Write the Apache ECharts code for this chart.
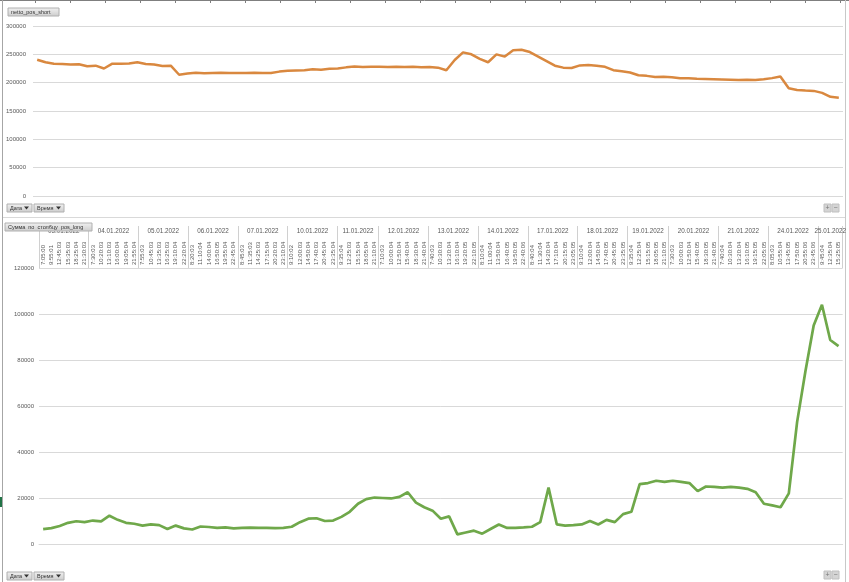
<!DOCTYPE html>
<html><head><meta charset="utf-8">
<script src="https://cdn.jsdelivr.net/npm/echarts@6/dist/echarts.min.js"></script>
<style>html,body{margin:0;padding:0;background:#fff}#c{width:849px;height:582px}</style>
</head><body><div id="c"></div>
<script>
const FONT = '"Liberation Sans", "DejaVu Sans", sans-serif';
const days = ['03.01.2022','04.01.2022','05.01.2022','06.01.2022','07.01.2022','10.01.2022','11.01.2022','12.01.2022','13.01.2022','14.01.2022','17.01.2022','18.01.2022','19.01.2022','20.01.2022','21.01.2022','24.01.2022','25.01.2022'];
const times = [
  ['7:05:00','9:55:01','12:45:03','15:35:03','18:25:04','21:30:03'],
  ['7:30:03','10:20:03','13:10:03','16:00:04','19:05:04','21:55:04'],
  ['7:55:03','10:45:03','13:35:03','16:25:03','19:10:04','22:20:04'],
  ['8:20:03','11:10:04','14:00:04','16:50:05','19:55:04','22:45:04'],
  ['8:45:03','11:35:03','14:25:03','17:15:04','20:20:03','23:10:04'],
  ['9:10:02','12:00:03','14:50:04','17:40:03','20:45:04','23:35:04'],
  ['9:35:04','12:25:03','15:15:04','18:05:04','21:10:04'],
  ['7:10:03','10:00:04','12:50:04','15:40:04','18:30:04','21:40:04'],
  ['7:40:03','10:30:03','13:20:04','16:10:04','19:20:05','22:10:05'],
  ['8:10:04','11:00:04','13:50:04','16:40:05','19:50:05','22:40:06'],
  ['8:40:04','11:30:04','14:20:04','17:10:04','20:15:05','23:05:05'],
  ['9:10:04','12:00:04','14:50:04','17:40:05','20:45:05','23:35:05'],
  ['9:35:04','12:25:04','15:15:05','18:05:05','21:10:05'],
  ['7:30:03','10:00:03','12:50:04','15:40:05','18:30:05','21:40:05'],
  ['7:40:04','10:30:04','13:20:04','16:10:05','19:15:05','22:05:05'],
  ['8:05:03','10:55:04','13:45:05','17:50:05','20:55:06','23:45:06'],
  ['9:45:04','12:35:04','15:25:05']
];
const nettoPosShort = [240500,236000,233500,233000,232000,232500,229000,230000,225000,233500,
233500,234000,236000,233000,232000,229500,230000,214000,216000,217500,
216500,217000,217500,217000,217000,217000,217500,217000,217000,219500,
221000,221500,222000,223500,223000,224500,225000,227000,228500,227500,
228000,228000,227500,228000,227500,228000,227000,227500,226500,222000,
240000,253500,250000,242000,236000,250000,246000,257000,258000,254000,
246000,238000,230000,226500,226000,230500,231000,230000,228000,222000,
220000,218000,213000,212000,210000,210500,209500,208000,208000,207000,
206500,206000,205500,205000,204500,205000,204500,206000,208000,211000,
190000,187000,186000,185500,182000,175000,173500];
const posLong = [6500,6900,7800,9200,9900,9500,10200,9800,12300,10500,
9200,8800,8000,8500,8200,6500,8000,6800,6300,7600,
7400,7000,7200,6800,7000,7100,7000,7000,6900,7000,
7500,9500,11000,11200,10000,10200,11800,14000,17500,19500,
20200,20000,19800,20500,22500,18000,16000,14500,11000,12000,
4200,5000,5800,4500,6500,8500,7000,7000,7200,7500,
9500,24500,8500,8000,8200,8500,10000,8500,10500,9500,
13000,14000,26000,26500,27500,27000,27500,27000,26500,23000,
25000,24800,24500,24800,24500,24000,22500,17500,16800,16000,
22000,53000,75000,95000,104000,88700,86000];

// derived axis helpers
const timeLabels = [].concat(...times);
const categories = [];
times.forEach((t, d) => t.forEach(s => categories.push(days[d] + ' ' + s)));
const bounds = [0];
times.forEach(t => bounds.push(bounds[bounds.length - 1] + t.length));
const centers = times.map((t, d) => bounds[d] + t.length / 2);
const total = timeLabels.length;

const chart = echarts.init(document.getElementById('c'), null, {renderer: 'canvas'});
const txt = {fontFamily: FONT, fontSize: 6, color: '#595959'};

function button(x, y, w, h, label, arrow) {
  const els = [{
    type: 'rect', z: 100, shape: {x: x, y: y, width: w, height: h},
    style: {fill: new echarts.graphic.LinearGradient(0, 0, 0, 1, [{offset: 0, color: '#f2f2f2'}, {offset: 1, color: '#cbcbcb'}]), stroke: '#b0b0b0', lineWidth: 1}
  }, {
    type: 'text', z: 101, x: x + 3, y: y + h / 2,
    style: {text: label, font: '5.5px ' + FONT, fill: '#333', verticalAlign: 'middle'}
  }];
  if (arrow) {
    els.push({type: 'polygon', z: 101, shape: {points: [[x + w - 8, y + h / 2 - 1.5], [x + w - 3, y + h / 2 - 1.5], [x + w - 5.5, y + h / 2 + 1.5]]}, style: {fill: '#333'}});
  }
  return els;
}
function plusMinus(y) {
  return [
    {type: 'rect', z: 100, shape: {x: 824, y: y, width: 7, height: 8}, style: {fill: '#d4d4d4', stroke: '#c0c0c0'}},
    {type: 'text', z: 101, x: 827.5, y: y + 4, style: {text: '+', font: '7px ' + FONT, fill: '#777', align: 'center', verticalAlign: 'middle'}},
    {type: 'rect', z: 100, shape: {x: 832, y: y, width: 7, height: 8}, style: {fill: '#d4d4d4', stroke: '#c0c0c0'}},
    {type: 'text', z: 101, x: 835.5, y: y + 4, style: {text: '−', font: '7px ' + FONT, fill: '#777', align: 'center', verticalAlign: 'middle'}}
  ];
}
const deco = [
  {type: 'line', shape: {x1: 0, y1: 0.5, x2: 849, y2: 0.5}, style: {stroke: '#7f7f7f', lineWidth: 1}},
  {type: 'line', shape: {x1: 2.5, y1: 0, x2: 2.5, y2: 582}, style: {stroke: '#a6a6a6', lineWidth: 1}},
  {type: 'line', shape: {x1: 845.5, y1: 0, x2: 845.5, y2: 582}, style: {stroke: '#c8c8c8', lineWidth: 1}},
  {type: 'line', shape: {x1: 3, y1: 217.5, x2: 845, y2: 217.5}, style: {stroke: '#d9d9d9', lineWidth: 1}},
  {type: 'rect', shape: {x: 0, y: 497, width: 2, height: 10}, style: {fill: '#217346'}}
];
for (let x = 35; x < 849; x += 35) deco.push({type: 'line', shape: {x1: x + 0.5, y1: 0, x2: x + 0.5, y2: 3}, style: {stroke: '#7f7f7f'}});

const graphics = deco
  .concat(button(8, 8, 51, 8, 'netto_pos_short', false))
  .concat(button(5, 223, 87, 8, 'Сумма  по  столбцу  pos_long', false))
  .concat(button(7, 204, 25, 8, 'Дата', true))
  .concat(button(34, 204, 30, 8, 'Время', true))
  .concat(button(7, 572, 25, 8, 'Дата', true))
  .concat(button(34, 572, 30, 8, 'Время', true))
  .concat(plusMinus(204))
  .concat(plusMinus(571));

chart.setOption({
  animation: false,
  backgroundColor: '#fff',
  textStyle: {fontFamily: FONT},
  grid: [
    {left: 33, right: 6, top: 26, bottom: 386, containLabel: false},
    {left: 39, right: 6, top: 268, bottom: 38, containLabel: false}
  ],
  xAxis: [
    {type: 'category', gridIndex: 0, data: categories, boundaryGap: true, show: false},
    {type: 'category', gridIndex: 1, position: 'top', data: timeLabels, boundaryGap: true,
     axisLine: {show: true, lineStyle: {color: '#d9d9d9', width: 1}},
     axisTick: {show: false},
     axisLabel: Object.assign({interval: 0, rotate: 90, margin: 3}, txt)},
    {type: 'value', gridIndex: 1, position: 'top', min: 0, max: total,
     axisLine: {show: false}, splitLine: {show: false},
     axisTick: {show: true, customValues: bounds, length: 42, inside: false, lineStyle: {color: '#d0d0d0', width: 1}},
     axisLabel: Object.assign({customValues: centers, margin: 34,
       formatter: v => { const i = centers.indexOf(v); return i >= 0 ? days[i] : ''; }}, txt, {fontSize: 6.3})}
  ],
  yAxis: [
    {type: 'value', gridIndex: 0, min: 0, max: 300000, interval: 50000,
     axisLine: {show: false}, axisTick: {show: false},
     axisLabel: Object.assign({margin: 7, formatter: v => String(v)}, txt),
     splitLine: {lineStyle: {color: '#d9d9d9', width: 1}}},
    {type: 'value', gridIndex: 1, min: 0, max: 120000, interval: 20000,
     axisLine: {show: false}, axisTick: {show: false},
     axisLabel: Object.assign({margin: 5, formatter: v => String(v)}, txt),
     splitLine: {lineStyle: {color: '#d9d9d9', width: 1}}}
  ],
  series: [
    {name: 'netto_pos_short', type: 'line', xAxisIndex: 0, yAxisIndex: 0, data: nettoPosShort,
     showSymbol: false, lineStyle: {color: '#d9883f', width: 2.5}, itemStyle: {color: '#d9883f'}},
    {name: 'pos_long', type: 'line', xAxisIndex: 1, yAxisIndex: 1, data: posLong,
     showSymbol: false, lineStyle: {color: '#6fa84a', width: 2.7}, itemStyle: {color: '#6fa84a'}}
  ],
  graphic: graphics
});
</script></body></html>
